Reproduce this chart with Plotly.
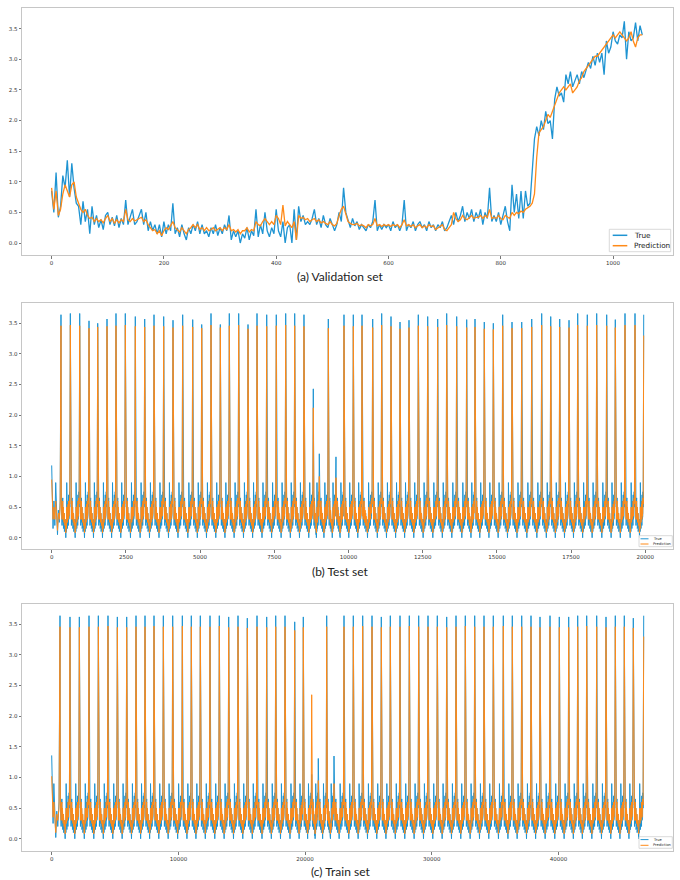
import plotly.graph_objects as go

BLUE = "#1f94d2"
ORANGE = "#ff8a18"

# ---------------- (a) Validation set ----------------
val_x = list(range(0, 1056, 4))
val_true = [
    0.85, 0.5, 1.15, 0.42, 0.6, 1.1, 0.9, 1.35, 0.75, 1.3,
    0.9, 0.65, 0.6, 0.3, 0.68, 0.35, 0.55, 0.15, 0.6, 0.3,
    0.45, 0.25, 0.38, 0.22, 0.45, 0.5, 0.3, 0.42, 0.28, 0.45,
    0.25, 0.4, 0.3, 0.7, 0.3, 0.42, 0.55, 0.3, 0.35, 0.45,
    0.55, 0.3, 0.5, 0.2, 0.35, 0.2, 0.3, 0.15, 0.3, 0.1,
    0.35, 0.15, 0.3, 0.2, 0.65, 0.15, 0.25, 0.1, 0.3, 0.15,
    0.05, 0.25, 0.15, 0.3, 0.2, 0.35, 0.15, 0.3, 0.15, 0.2,
    0.1, 0.25, 0.15, 0.3, 0.12, 0.25, 0.15, 0.3, 0.2, 0.45,
    0.05, 0.2, 0.1, 0.2, 0.0, 0.15, 0.08, 0.25, 0.05, 0.2,
    0.12, 0.55, 0.1, 0.3, 0.15, 0.5, 0.2, 0.1, 0.25, 0.15,
    0.55, 0.2, 0.1, 0.35, 0.0, 0.25, 0.3, 0.0, 0.55, 0.05,
    0.6, 0.35, 0.45, 0.3, 0.35, 0.3, 0.4, 0.55, 0.3, 0.4,
    0.25, 0.45, 0.3, 0.25, 0.4, 0.3, 0.2, 0.3, 0.5, 0.35,
    0.9, 0.5, 0.35, 0.25, 0.4, 0.28, 0.35, 0.22, 0.3, 0.25,
    0.2, 0.3, 0.25, 0.35, 0.7, 0.2, 0.3, 0.22, 0.3, 0.25,
    0.3, 0.2, 0.35, 0.25, 0.3, 0.2, 0.3, 0.7, 0.2, 0.3,
    0.25, 0.35, 0.2, 0.3, 0.35, 0.25, 0.3, 0.2, 0.35, 0.25,
    0.3, 0.2, 0.3, 0.25, 0.35, 0.2, 0.25, 0.35, 0.45, 0.3,
    0.5, 0.35, 0.45, 0.6, 0.35, 0.5, 0.4, 0.55, 0.35, 0.5,
    0.4, 0.55, 0.3, 0.5, 0.4, 0.9, 0.35, 0.45, 0.35, 0.5,
    0.3, 0.45, 0.6, 0.35, 0.2, 0.95, 0.5, 0.8, 0.4, 0.85,
    0.4, 0.85, 0.6, 0.65, 1.1, 1.7, 1.9, 1.75, 2.0, 1.85,
    2.15, 1.95, 2.0, 1.7, 2.35, 2.55, 2.4, 2.45, 2.3, 2.75,
    2.6, 2.8, 2.55, 2.65, 2.75, 2.6, 2.8, 2.7, 2.85, 2.95,
    2.85, 3.05, 2.9, 3.1, 2.95, 3.1, 2.75, 3.3, 3.1, 3.2,
    3.45, 3.3, 3.25, 3.4, 3.35, 3.62, 3.0, 3.45, 3.3, 3.35,
    3.6, 3.3, 3.55, 3.4,
]
val_pred = [
    0.9, 0.55, 0.85, 0.45, 0.55, 0.8, 0.95, 0.85, 0.75, 0.95,
    1.0, 0.75, 0.65, 0.55, 0.5, 0.55, 0.45, 0.4, 0.42, 0.35,
    0.4, 0.35, 0.38, 0.33, 0.4, 0.45, 0.35, 0.4, 0.32, 0.38,
    0.33, 0.38, 0.35, 0.55, 0.38, 0.35, 0.4, 0.36, 0.38, 0.4,
    0.42, 0.35, 0.38, 0.3, 0.25, 0.2, 0.22, 0.15, 0.2, 0.12,
    0.2, 0.25, 0.22, 0.28, 0.35, 0.25, 0.22, 0.18, 0.25, 0.2,
    0.15, 0.22, 0.25, 0.3, 0.25, 0.3, 0.22, 0.25, 0.2, 0.25,
    0.2, 0.22, 0.25, 0.2, 0.22, 0.25, 0.2, 0.25, 0.22, 0.3,
    0.2, 0.22, 0.18, 0.22, 0.15, 0.2, 0.2, 0.25, 0.18, 0.22,
    0.2, 0.35, 0.3, 0.28, 0.35, 0.4, 0.35, 0.3, 0.35, 0.3,
    0.45, 0.4, 0.3, 0.62, 0.28, 0.35, 0.3, 0.25, 0.35, 0.05,
    0.45, 0.4, 0.42, 0.38, 0.4, 0.35, 0.38, 0.4, 0.35, 0.38,
    0.33, 0.35, 0.32, 0.3, 0.35, 0.3, 0.28, 0.32, 0.45, 0.55,
    0.6, 0.45, 0.35, 0.32, 0.3, 0.3, 0.32, 0.28, 0.3, 0.28,
    0.25, 0.3, 0.28, 0.3, 0.4, 0.28, 0.3, 0.27, 0.3, 0.28,
    0.3, 0.27, 0.3, 0.28, 0.3, 0.25, 0.3, 0.38, 0.28, 0.3,
    0.27, 0.3, 0.25, 0.28, 0.3, 0.25, 0.28, 0.25, 0.3, 0.27,
    0.28, 0.22, 0.25, 0.28, 0.3, 0.22, 0.2, 0.25, 0.3, 0.5,
    0.4, 0.35, 0.38, 0.45, 0.4, 0.38, 0.42, 0.45, 0.4, 0.42,
    0.42, 0.45, 0.4, 0.45, 0.42, 0.55, 0.4, 0.42, 0.4, 0.45,
    0.4, 0.38, 0.45, 0.42, 0.4, 0.5, 0.45, 0.5, 0.48, 0.52,
    0.5, 0.55, 0.58, 0.6, 0.65, 0.8, 1.4, 1.8, 1.85, 1.9,
    2.0, 2.1, 2.05, 2.15, 2.25, 2.35, 2.45, 2.5, 2.55, 2.5,
    2.55, 2.6, 2.45, 2.5, 2.55, 2.65, 2.7, 2.8, 2.85, 2.9,
    2.95, 3.0, 3.05, 3.05, 3.1, 3.15, 3.2, 3.25, 3.3, 3.35,
    3.4, 3.35, 3.4, 3.45, 3.4, 3.35, 3.3, 3.35, 3.45, 3.3,
    3.2, 3.35, 3.4, 3.4,
]

# ---------------- shared cycle shape (read from zoomed baseline) ----------------
cycle_phase = [0.04, 0.065, 0.09, 0.115, 0.14, 0.165, 0.19, 0.215, 0.24, 0.265,
               0.29, 0.315, 0.34, 0.365, 0.39, 0.415, 0.44, 0.465, 0.49, 0.515,
               0.54, 0.565, 0.59, 0.615, 0.64, 0.665, 0.69, 0.715, 0.74, 0.765,
               0.79, 0.815, 0.84, 0.865, 0.89, 0.915, 0.94]
cycle_true = [0.6, 0.3, 0.5, 0.2, 0.55, 0.3, 0.65, 0.25, 0.5, 0.15,
              0.45, 0.2, 0.4, 0.1, 0.35, 0.15, 0.3, 0.05, 0.2, 0.0,
              0.15, 0.3, 0.1, 0.9, 0.2, 0.45, 0.15, 0.55, 0.25, 0.6,
              0.2, 0.7, 0.3, 0.65, 0.35, 0.75, 0.5]
cycle_pred = [0.55, 0.35, 0.5, 0.3, 0.55, 0.35, 0.6, 0.3, 0.5, 0.25,
              0.45, 0.25, 0.4, 0.2, 0.35, 0.2, 0.3, 0.12, 0.2, 0.08,
              0.15, 0.25, 0.15, 0.5, 0.25, 0.45, 0.25, 0.5, 0.3, 0.55,
              0.3, 0.6, 0.35, 0.6, 0.4, 0.65, 0.55]

# ---------------- (b) Test set ----------------
test_lead_x = [0, 20, 45, 75, 105, 135, 165, 195, 225, 255, 285]
test_lead_true = [1.18, 0.45, 0.15, 0.6, 0.2, 0.9, 0.3, 0.05, 0.45, 0.25, 0.6]
test_lead_pred = [0.95, 0.45, 0.3, 0.5, 0.3, 0.6, 0.35, 0.12, 0.4, 0.3, 0.5]
test_spike_x = [
    313, 628, 943, 1257, 1550, 1863, 2166, 2480, 2817, 3133, 3447, 3773, 4087, 4413,
    4751, 5054, 5367, 5681, 5984, 6300, 6614, 6917, 7244, 7567, 7884, 8187, 8500,
    8814, 9016, 9320, 9578,
    9848, 10162, 10455, 10815, 11118, 11432, 11735, 12038, 12352, 12668, 13005, 13308,
    13645, 13982, 14262, 14575, 14879, 15195, 15509, 15836, 16173, 16509, 16813, 17116,
    17430, 17722, 18046, 18362, 18699, 18989, 19316, 19653, 19946,
]
test_peak_true = [
    3.64, 3.66, 3.66, 3.54, 3.50, 3.57, 3.66, 3.66, 3.61, 3.57, 3.64, 3.61, 3.55, 3.64,
    3.56, 3.48, 3.66, 3.48, 3.66, 3.66, 3.48, 3.66, 3.64, 3.64, 3.66, 3.66, 3.64,
    2.43, 1.37, 3.57, 1.32,
    3.64, 3.64, 3.64, 3.57, 3.66, 3.61, 3.52, 3.55, 3.64, 3.61, 3.57, 3.66, 3.61, 3.56,
    3.57, 3.52, 3.50, 3.64, 3.52, 3.52, 3.57, 3.66, 3.61, 3.57, 3.55, 3.66, 3.64, 3.66,
    3.64, 3.56, 3.66, 3.66, 3.64,
]
test_peak_pred = [
    3.46, 3.47, 3.46, 3.42, 3.44, 3.45, 3.46, 3.47, 3.45, 3.44, 3.46, 3.45, 3.43, 3.46,
    3.44, 3.42, 3.47, 3.43, 3.46, 3.47, 3.41, 3.46, 3.45, 3.46, 3.47, 3.46, 3.45,
    2.12, 1.0, 3.42, 0.98,
    3.46, 3.45, 3.46, 3.43, 3.47, 3.45, 3.41, 3.43, 3.46, 3.45, 3.44, 3.47, 3.45, 3.43,
    3.44, 3.41, 3.40, 3.46, 3.42, 3.42, 3.44, 3.47, 3.45, 3.44, 3.43, 3.47, 3.46, 3.47,
    3.46, 3.43, 3.47, 3.47, 3.30,
]

# ---------------- (c) Train set ----------------
train_lead_x = [0, 50, 110, 170, 240, 320, 400, 480, 580]
train_lead_true = [1.36, 0.5, 0.25, 0.9, 0.3, 0.02, 0.45, 0.2, 0.6]
train_lead_pred = [1.02, 0.5, 0.35, 0.6, 0.3, 0.1, 0.4, 0.3, 0.5]
train_spike_x = [
    655, 1444, 2181, 2944, 3681, 4443, 5180, 5919, 6654, 7364, 8074, 8811, 9550, 10310,
    11019, 11729, 12494, 13228, 13970, 14704, 15438, 16204, 16969, 17680, 18414, 19180, 19858,
    20521, 21042, 21705, 22281,
    23070, 23804, 24546, 25280, 26014, 26725, 27490, 28224, 28966, 29700, 30434, 31176, 31910,
    32644, 33386, 34120, 34854, 35643, 36354, 37096, 37830, 38540, 39329, 40063, 40805, 41515,
    42226, 43015, 43749, 44483, 45193, 45904, 46725,
]
train_peak_true = [
    3.64, 3.62, 3.62, 3.64, 3.64, 3.64, 3.62, 3.62, 3.64, 3.64, 3.64, 3.64, 3.64, 3.64,
    3.64, 3.64, 3.64, 3.64, 3.62, 3.64, 3.60, 3.64, 3.62, 3.64, 3.64, 3.54, 3.62,
    1.05, 1.31, 3.64, 1.35,
    3.64, 3.64, 3.64, 3.64, 3.62, 3.64, 3.64, 3.64, 3.64, 3.64, 3.64, 3.62, 3.64, 3.64,
    3.64, 3.64, 3.64, 3.64, 3.64, 3.64, 3.64, 3.62, 3.64, 3.62, 3.62, 3.64, 3.64, 3.64,
    3.62, 3.64, 3.64, 3.60, 3.64,
]
train_peak_pred = [
    3.46, 3.45, 3.45, 3.46, 3.46, 3.47, 3.45, 3.45, 3.46, 3.46, 3.47, 3.46, 3.46, 3.47,
    3.46, 3.46, 3.46, 3.47, 3.45, 3.46, 3.44, 3.46, 3.45, 3.46, 3.46, 3.40, 3.45,
    2.35, 0.95, 3.46, 0.9,
    3.46, 3.46, 3.47, 3.46, 3.45, 3.46, 3.46, 3.47, 3.46, 3.46, 3.46, 3.45, 3.46, 3.47,
    3.46, 3.46, 3.46, 3.47, 3.46, 3.46, 3.46, 3.45, 3.46, 3.45, 3.45, 3.46, 3.47, 3.46,
    3.45, 3.46, 3.46, 3.44, 3.30,
]

y_ticks = [0.0, 0.5, 1.0, 1.5, 2.0, 2.5, 3.0, 3.5]
y_labels = ["0.0", "0.5", "1.0", "1.5", "2.0", "2.5", "3.0", "3.5"]
val_xticks = [0, 200, 400, 600, 800, 1000]
test_xticks = [0, 2500, 5000, 7500, 10000, 12500, 15000, 17500, 20000]
train_xticks = [0, 10000, 20000, 30000, 40000]


def assemble(lead_x, lead_y, spikes, peaks, phases, shape):
    xs, ys = list(lead_x), list(lead_y)
    for i, (sx, pk) in enumerate(zip(spikes, peaks)):
        xs.append(sx)
        ys.append(pk)
        if i + 1 < len(spikes):
            gap = spikes[i + 1] - sx
            for ph, v in zip(phases, shape):
                xs.append(sx + ph * gap)
                ys.append(v)
    return xs, ys


tx_t, ty_t = assemble(test_lead_x, test_lead_true, test_spike_x, test_peak_true, cycle_phase, cycle_true)
tx_p, ty_p = assemble(test_lead_x, test_lead_pred, test_spike_x, test_peak_pred, cycle_phase, cycle_pred)
rx_t, ry_t = assemble(train_lead_x, train_lead_true, train_spike_x, train_peak_true, cycle_phase, cycle_true)
rx_p, ry_p = assemble(train_lead_x, train_lead_pred, train_spike_x, train_peak_pred, cycle_phase, cycle_pred)

W, H = 680, 880
fig = go.Figure()

fig.add_trace(go.Scatter(x=val_x, y=val_true, mode="lines", line=dict(color=BLUE, width=1.3),
                         name="True", xaxis="x", yaxis="y", showlegend=False))
fig.add_trace(go.Scatter(x=val_x, y=val_pred, mode="lines", line=dict(color=ORANGE, width=1.3),
                         name="Prediction", xaxis="x", yaxis="y", showlegend=False))
fig.add_trace(go.Scatter(x=tx_t, y=ty_t, mode="lines", line=dict(color=BLUE, width=1.0),
                         name="True", xaxis="x2", yaxis="y2", showlegend=False))
fig.add_trace(go.Scatter(x=tx_p, y=ty_p, mode="lines", line=dict(color=ORANGE, width=1.0),
                         name="Prediction", xaxis="x2", yaxis="y2", showlegend=False))
fig.add_trace(go.Scatter(x=rx_t, y=ry_t, mode="lines", line=dict(color=BLUE, width=1.0),
                         name="True", xaxis="x3", yaxis="y3", showlegend=False))
fig.add_trace(go.Scatter(x=rx_p, y=ry_p, mode="lines", line=dict(color=ORANGE, width=1.0),
                         name="Prediction", xaxis="x3", yaxis="y3", showlegend=False))


def px(x):
    return x / W


def py(y):
    return 1 - y / H


axis_style = dict(showline=True, mirror=True, linecolor="#c6c6c6", linewidth=1,
                  ticks="outside", ticklen=2.5, tickwidth=0.8, tickcolor="#777",
                  tickfont=dict(size=5.5, color="#333", family="DejaVu Sans"),
                  showgrid=False, zeroline=False)

xl, xr = px(22), px(673)
fig.update_layout(
    width=W, height=H, margin=dict(l=0, r=0, t=0, b=0),
    paper_bgcolor="white", plot_bgcolor="white",
    xaxis=dict(domain=[xl, xr], range=[-52.7, 1106.7], tickvals=val_xticks,
               ticktext=[str(v) for v in val_xticks], anchor="y", **axis_style),
    yaxis=dict(domain=[py(255), py(8)], range=[-0.196, 3.838], tickvals=y_ticks,
               ticktext=y_labels, anchor="x", **axis_style),
    xaxis2=dict(domain=[xl, xr], range=[-1000.7, 20933], tickvals=test_xticks,
                ticktext=[str(v) for v in test_xticks], anchor="y2", **axis_style),
    yaxis2=dict(domain=[py(549.3), py(302.7)], range=[-0.189, 3.836], tickvals=y_ticks,
                ticktext=y_labels, anchor="x2", **axis_style),
    xaxis3=dict(domain=[xl, xr], range=[-2344, 49037], tickvals=train_xticks,
                ticktext=[str(v) for v in train_xticks], anchor="y3", **axis_style),
    yaxis3=dict(domain=[py(851), py(604.3)], range=[-0.2, 3.826], tickvals=y_ticks,
                ticktext=y_labels, anchor="x3", **axis_style),
)

shapes = []
annotations = []

captions = [("(a) Validation set", 276), ("(b) Test set", 571.7), ("(c) Train set", 871)]
for text, yc in captions:
    annotations.append(dict(text=text, x=0.5, y=py(yc), xref="paper", yref="paper",
                            xanchor="center", yanchor="middle", showarrow=False,
                            font=dict(size=12, color="#222", family="Lato")))


def add_legend(box, ly_true, ly_pred, lx0, lx1, tx, fsize, lw):
    x0, x1, y0, y1 = box
    shapes.append(dict(type="rect", xref="paper", yref="paper", x0=px(x0), x1=px(x1),
                       y0=py(y1), y1=py(y0), line=dict(color="#d0d0d0", width=0.8),
                       fillcolor="rgba(255,255,255,0.85)", layer="above"))
    for yy, col, lab in [(ly_true, BLUE, "True"), (ly_pred, ORANGE, "Prediction")]:
        shapes.append(dict(type="line", xref="paper", yref="paper", x0=px(lx0), x1=px(lx1),
                           y0=py(yy), y1=py(yy), line=dict(color=col, width=lw), layer="above"))
        annotations.append(dict(text=lab, x=px(tx), y=py(yy), xref="paper", yref="paper",
                                xanchor="left", yanchor="middle", showarrow=False,
                                font=dict(size=fsize, color="#222", family="DejaVu Sans")))


add_legend((609.3, 670.7, 229.3, 251.7), 235.3, 245.7, 612.7, 627.3, 631.5, 7.3, 1.5)
add_legend((639.0, 672.3, 535.7, 546.7), 538.8, 544.0, 640.5, 648.5, 650.5, 3.6, 1.0)
add_legend((639.0, 672.3, 836.7, 848.3), 839.6, 845.3, 640.5, 648.5, 650.5, 3.6, 1.0)

fig.update_layout(shapes=shapes, annotations=annotations)

fig.write_html("out.html")
